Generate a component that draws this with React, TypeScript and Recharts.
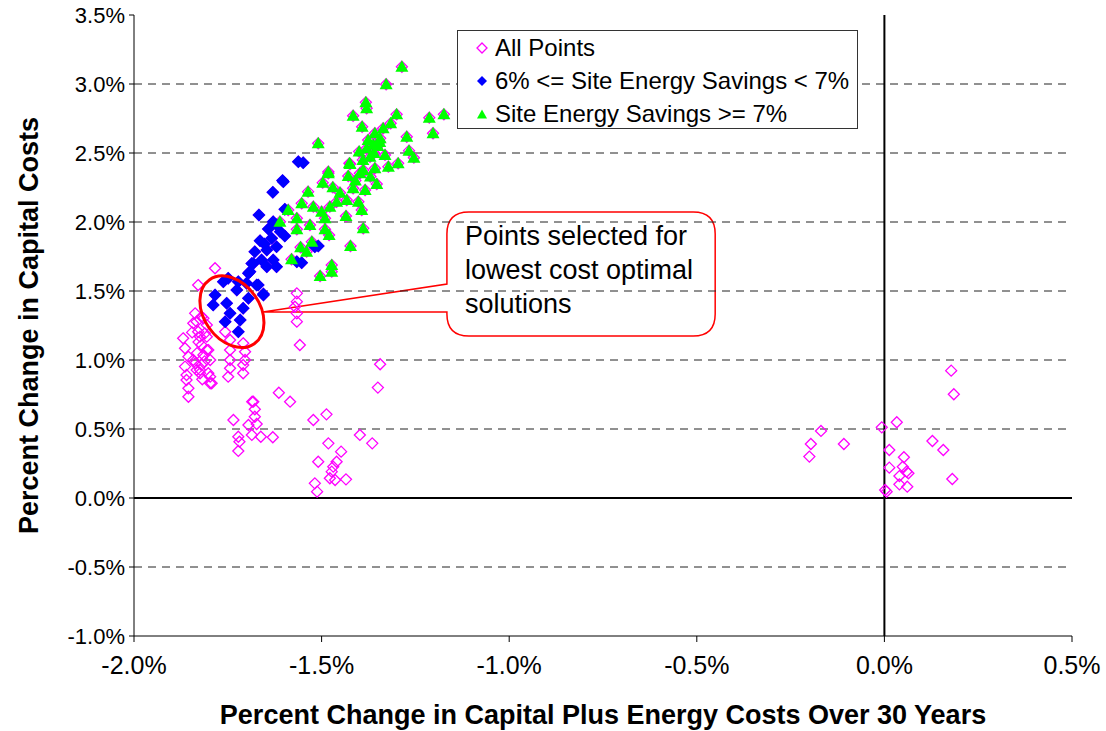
import React from "react";
import {
  ScatterChart, Scatter, XAxis, YAxis, ReferenceLine, ReferenceDot,
  ReferenceArea, Legend,
} from "recharts";

// [x %, y %]
const otherPoints: [number, number][] = [
  [-1.784, 1.665], [-1.829, 1.543], [-1.837, 1.338], [-1.833, 1.278], [-1.82, 1.314],
  [-1.869, 1.157], [-1.864, 1.085], [-1.855, 1.024], [-1.864, 0.952], [-1.86, 0.891],
  [-1.855, 0.795], [-1.855, 0.734], [-1.824, 1.169], [-1.82, 1.109], [-1.815, 1.036],
  [-1.82, 0.964], [-1.824, 0.904], [-1.802, 0.904], [-1.797, 0.831], [-1.806, 1.072],
  [-1.797, 1.0], [-1.842, 1.0], [-1.833, 0.928], [-1.811, 1.193], [-1.806, 1.254],
  [-1.842, 1.266], [-1.815, 1.302], [-1.829, 1.205], [-1.806, 1.169], [-1.802, 1.072],
  [-1.837, 0.976], [-1.824, 0.928], [-1.797, 0.879], [-1.86, 0.855], [-1.793, 0.831],
  [-1.828, 1.13], [-1.812, 0.99], [-1.832, 1.05], [-1.818, 0.86], [-1.845, 1.2],
  [-1.757, 1.205], [-1.744, 1.145], [-1.744, 1.072], [-1.744, 1.0], [-1.744, 0.94],
  [-1.749, 0.879], [-1.709, 1.121], [-1.704, 1.06], [-1.704, 1.0], [-1.709, 0.904],
  [-1.709, 0.964], [-1.682, 0.698],
  [-1.566, 1.483], [-1.566, 1.423], [-1.571, 1.386], [-1.566, 1.338], [-1.566, 1.278],
  [-1.558, 1.109], [-1.344, 0.969], [-1.35, 0.8], [-1.614, 0.763], [-1.584, 0.698],
  [-1.685, 0.698], [-1.678, 0.643], [-1.678, 0.589], [-1.735, 0.565], [-1.695, 0.529],
  [-1.673, 0.536], [-1.686, 0.457], [-1.662, 0.444], [-1.63, 0.44], [-1.722, 0.444],
  [-1.719, 0.408], [-1.722, 0.341], [-1.522, 0.565], [-1.487, 0.606], [-1.398, 0.457],
  [-1.365, 0.396], [-1.482, 0.396], [-1.448, 0.336], [-1.509, 0.263], [-1.46, 0.263],
  [-1.469, 0.227], [-1.473, 0.191], [-1.478, 0.143], [-1.464, 0.13], [-1.435, 0.135],
  [-1.518, 0.106], [-1.512, 0.046],
  [0.178, 0.923], [0.185, 0.752], [0.033, 0.549], [-0.007, 0.512], [-0.169, 0.486],
  [-0.196, 0.391], [-0.108, 0.391], [-0.2, 0.3], [0.128, 0.413], [0.157, 0.348],
  [0.181, 0.138], [0.013, 0.348], [0.052, 0.295], [0.013, 0.22], [0.049, 0.227],
  [0.04, 0.159], [0.059, 0.191], [0.064, 0.179], [0.04, 0.099], [0.061, 0.082],
  [0.002, 0.058], [0.006, 0.046],
];

const bluePoints: [number, number][] = [
  [-1.602, 2.292], [-1.63, 2.215], [-1.667, 2.051], [-1.642, 1.949], [-1.62, 1.978],
  [-1.598, 1.899], [-1.664, 1.864], [-1.633, 1.882], [-1.678, 1.785], [-1.646, 1.797],
  [-1.62, 1.821], [-1.629, 1.725], [-1.66, 1.725], [-1.686, 1.7], [-1.646, 1.676],
  [-1.62, 1.676], [-1.695, 1.628], [-1.673, 1.543], [-1.7, 1.556], [-1.722, 1.567],
  [-1.749, 1.592], [-1.655, 1.478], [-1.562, 2.437], [-1.549, 2.43], [-1.604, 2.3],
  [-1.598, 2.092], [-1.629, 2.002], [-1.509, 1.826], [-1.553, 1.705], [-1.518, 1.821],
  [-1.566, 1.712], [-1.762, 1.567], [-1.726, 1.507], [-1.669, 1.543], [-1.655, 1.471],
  [-1.695, 1.447], [-1.784, 1.471], [-1.753, 1.411], [-1.789, 1.399], [-1.744, 1.338],
  [-1.709, 1.375], [-1.717, 1.29], [-1.757, 1.278], [-1.722, 1.205], [-1.691, 1.64],
  [-1.682, 1.7], [-1.652, 1.84], [-1.61, 1.93],
];

const greenPoints: [number, number][] = [
  [-1.286, 3.125], [-1.328, 2.998], [-1.382, 2.867], [-1.38, 2.824], [-1.416, 2.77],
  [-1.3, 2.78], [-1.213, 2.756], [-1.174, 2.78], [-1.392, 2.69], [-1.203, 2.643],
  [-1.273, 2.618], [-1.316, 2.715], [-1.336, 2.679], [-1.358, 2.643], [-1.376, 2.594],
  [-1.344, 2.606], [-1.267, 2.517], [-1.254, 2.466], [-1.509, 2.57], [-1.4, 2.51],
  [-1.38, 2.534], [-1.371, 2.473], [-1.331, 2.486], [-1.426, 2.425], [-1.322, 2.401],
  [-1.296, 2.425], [-1.482, 2.365], [-1.389, 2.377], [-1.358, 2.389], [-1.424, 2.42],
  [-1.482, 2.353], [-1.497, 2.285], [-1.47, 2.251], [-1.429, 2.333], [-1.398, 2.353],
  [-1.353, 2.275], [-1.384, 2.232], [-1.416, 2.244], [-1.451, 2.212], [-1.536, 2.22],
  [-1.553, 2.135], [-1.522, 2.111], [-1.5, 2.075], [-1.478, 2.111], [-1.46, 2.147],
  [-1.433, 2.159], [-1.402, 2.147], [-1.393, 2.087], [-1.435, 2.043], [-1.589, 2.087],
  [-1.566, 2.027], [-1.611, 2.002], [-1.491, 2.027], [-1.531, 1.978], [-1.566, 1.947],
  [-1.491, 1.947], [-1.48, 1.906], [-1.389, 1.954], [-1.526, 1.857], [-1.556, 1.817],
  [-1.54, 1.785], [-1.423, 1.826], [-1.58, 1.73], [-1.473, 1.688], [-1.473, 1.64],
  [-1.504, 1.609], [-1.362, 2.56], [-1.35, 2.55], [-1.39, 2.45], [-1.36, 2.5],
  [-1.345, 2.58], [-1.41, 2.3], [-1.37, 2.33],
];

const seriesNames = ["All Points", "6% <= Site Energy Savings < 7%", "Site Energy Savings >= 7%"];
const xTicks = [-2, -1.5, -1, -0.5, 0, 0.5];
const yTicks = [-1, -0.5, 0, 0.5, 1, 1.5, 2, 2.5, 3, 3.5];
const gridValues = [3, 2.5, 2, 1.5, 1, 0.5, -0.5];
const calloutLines = ["Points selected for", "lowest cost optimal", "solutions"];

const toRows = (pts: [number, number][]) => pts.map(([x, y]) => ({ x, y }));
const allRows = toRows([...otherPoints, ...bluePoints, ...greenPoints]);
const blueRows = toRows(bluePoints);
const greenRows = toRows(greenPoints);

const FONT = "'Liberation Sans', Arial, sans-serif";

function HollowDiamond({ cx, cy }: any) {
  const r = 5.5;
  return <path d={`M${cx},${cy - r}L${cx + r},${cy}L${cx},${cy + r}L${cx - r},${cy}Z`} fill="none" stroke="#FF00FF" strokeWidth={1.3} />;
}

function BlueDiamond({ cx, cy }: any) {
  const r = 6.5;
  return <path d={`M${cx},${cy - r}L${cx + r},${cy}L${cx},${cy + r}L${cx - r},${cy}Z`} fill="#0000FF" />;
}

function GreenTriangle({ cx, cy }: any) {
  return <path d={`M${cx},${cy - 6.5}L${cx + 6.5},${cy + 5}L${cx - 6.5},${cy + 5}Z`} fill="#00FF00" />;
}

function legendIcon(i: number) {
  if (i === 0) return <path d="M6,1L11,6L6,11L1,6Z" fill="none" stroke="#FF00FF" strokeWidth={1.3} />;
  if (i === 1) return <path d="M6,1L11,6L6,11L1,6Z" fill="#0000FF" />;
  return <path d="M6,1.5L11,10.5L1,10.5Z" fill="#00FF00" />;
}

function renderLegend() {
  return (
    <div style={{ border: "1px solid #333", background: "#fff", padding: "0 0 0 18px", boxSizing: "border-box", height: 99 }}>
      {seriesNames.map((name, i) => (
        <div key={i} style={{ display: "flex", alignItems: "center", height: 33, fontFamily: FONT, fontSize: 24, color: "#000" }}>
          <svg width={12} height={12} style={{ marginRight: 7 }}>{legendIcon(i)}</svg>
          {name}
        </div>
      ))}
    </div>
  );
}

function Callout({ x, y, width, height }: any) {
  const r = 22;
  const x1 = x + width;
  const y1 = y + height;
  const tipX = x - 184;
  const tipY = y + 100;
  const d = `M${x + r},${y} H${x1 - r} Q${x1},${y} ${x1},${y + r} V${y1 - r} Q${x1},${y1} ${x1 - r},${y1} H${x + r} Q${x},${y1} ${x},${y1 - r} V${y + 100} L${tipX},${tipY} L${x},${y + 72} V${y + r} Q${x},${y} ${x + r},${y} Z`;
  return (
    <g>
      <path d={d} fill="#fff" stroke="#FF0000" strokeWidth={1.5} />
      {calloutLines.map((t, i) => (
        <text key={i} x={x + 18} y={y + 33 + i * 34} fontFamily={FONT} fontSize={27} fill="#000">{t}</text>
      ))}
    </g>
  );
}

function SelEllipse({ cx, cy }: any) {
  return <ellipse cx={cx} cy={cy} rx={28} ry={39} transform={`rotate(-35 ${cx} ${cy})`} fill="none" stroke="#FF0000" strokeWidth={3} />;
}

const pct = (v: number) => `${v.toFixed(1)}%`;

export default function App() {
  return (
    <div style={{ position: "absolute", left: 0, top: 0, background: "#fff" }}>
      <ScatterChart width={1106} height={731} margin={{ top: 15, right: 34, bottom: 35, left: 0 }}>
        <XAxis
          type="number" dataKey="x" domain={[-2, 0.5]} ticks={xTicks} tickFormatter={pct}
          height={60} tickSize={6} tickMargin={14}
          axisLine={{ stroke: "#000" }} tickLine={{ stroke: "#000" }}
          tick={{ fill: "#000", fontSize: 25, fontFamily: FONT }}
          label={{ value: "Percent Change in Capital Plus Energy Costs Over 30 Years", position: "bottom", offset: 9, style: { fontFamily: FONT, fontSize: 27, fontWeight: "bold", fill: "#000" } }}
        />
        <YAxis
          type="number" dataKey="y" domain={[-1, 3.5]} ticks={yTicks} tickFormatter={pct}
          width={134} tickSize={5} tickMargin={4}
          axisLine={{ stroke: "#000" }} tickLine={{ stroke: "#000" }}
          tick={{ fill: "#000", fontSize: 22, fontFamily: FONT }}
          label={{ value: "Percent Change in Capital Costs", angle: -90, position: "insideLeft", offset: 28, style: { textAnchor: "middle", fontFamily: FONT, fontSize: 27, fontWeight: "bold", fill: "#000" } }}
        />
        {gridValues.map((v) => (
          <ReferenceLine key={v} y={v} stroke="#222" strokeDasharray="8 6" />
        ))}
        <ReferenceLine y={0} stroke="#000" strokeWidth={2} />
        <ReferenceLine x={0} stroke="#000" strokeWidth={2} />
        <Scatter name={seriesNames[0]} data={allRows} shape={HollowDiamond} isAnimationActive={false} />
        <Scatter name={seriesNames[1]} data={blueRows} shape={BlueDiamond} isAnimationActive={false} />
        <Scatter name={seriesNames[2]} data={greenRows} shape={GreenTriangle} isAnimationActive={false} />
        <ReferenceDot x={-1.739} y={1.35} shape={SelEllipse} />
        <ReferenceArea x1={-1.166} x2={-0.451} y1={1.174} y2={2.072} shape={Callout} />
        <Legend
          layout="vertical" align="center" verticalAlign="middle"
          wrapperStyle={{ left: 457, top: 30, width: 401, height: 99 }}
          content={renderLegend}
        />
      </ScatterChart>
    </div>
  );
}
